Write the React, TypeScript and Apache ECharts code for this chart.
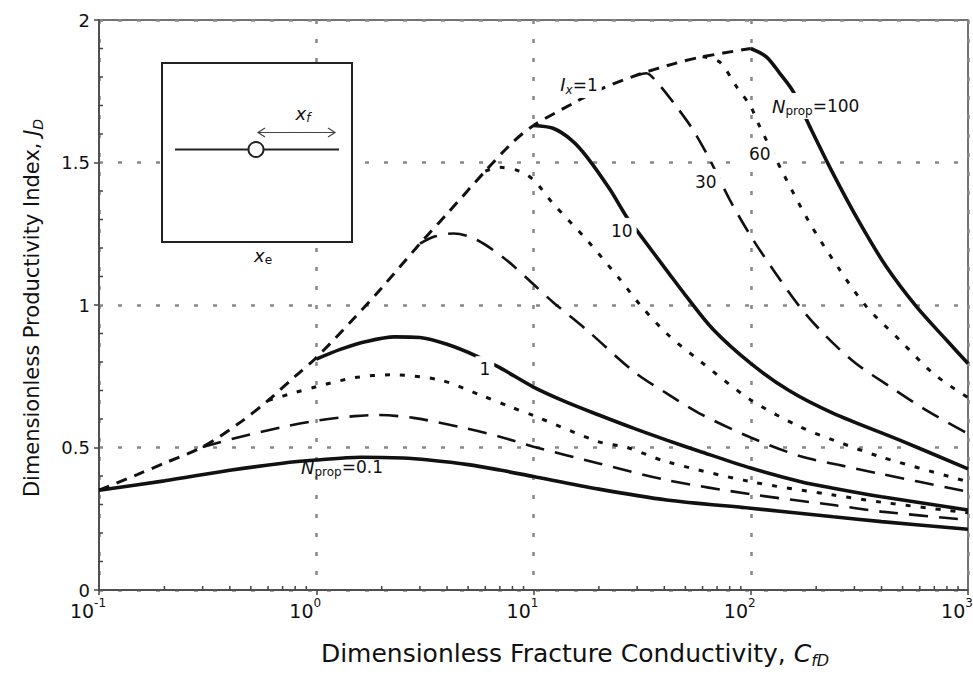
import React, { useEffect, useRef } from 'react';
import * as echarts from 'echarts';

const FONT = "'DejaVu Sans', 'Liberation Sans', sans-serif";
const INK = '#111';

// Ix = 1 envelope
const envelope: [number, number][] = [
  [0.1, 0.35], [0.15, 0.405], [0.2, 0.445], [0.3, 0.502], [0.45, 0.59], [0.6, 0.665], [0.8, 0.75],
  [1, 0.815], [1.5, 0.955], [2, 1.06], [3, 1.215], [4, 1.32], [6, 1.47], [8, 1.57], [10, 1.63],
  [15, 1.705], [20, 1.755], [30, 1.807], [45, 1.848], [60, 1.871], [100, 1.9],
];

const nprop01: [number, number][] = [
  [0.1, 0.35], [0.2, 0.383], [0.4, 0.42], [0.7, 0.445], [1, 0.456], [1.6, 0.466], [2.5, 0.463],
  [3.3, 0.456], [5, 0.44], [7, 0.421], [10, 0.398], [20, 0.354], [41, 0.316], [100, 0.287],
  [240, 0.257], [400, 0.24], [1000, 0.213],
];
const nprop03: [number, number][] = [
  [0.3, 0.502], [0.45, 0.538], [0.7, 0.572], [1, 0.594], [1.5, 0.61], [1.9, 0.614], [2.8, 0.604],
  [4.9, 0.567], [7, 0.538], [10, 0.503], [20, 0.444], [41, 0.386], [100, 0.336], [240, 0.298],
  [400, 0.275], [1000, 0.246],
];
const nprop06: [number, number][] = [
  [0.6, 0.665], [0.8, 0.693], [1, 0.713], [1.5, 0.745], [2.2, 0.755], [3.7, 0.737], [5.7, 0.684],
  [7.8, 0.643], [10, 0.612], [20, 0.52], [27, 0.5], [41, 0.45], [100, 0.38], [240, 0.333],
  [400, 0.308], [1000, 0.271],
];
const nprop1: [number, number][] = [
  [1, 0.81], [1.3, 0.845], [1.7, 0.872], [2.3, 0.888], [3, 0.886], [4, 0.862], [5.5, 0.82],
  [7, 0.78], [10, 0.712], [14, 0.661], [20, 0.614], [29, 0.567], [41, 0.526], [58, 0.487],
  [100, 0.428], [170, 0.38], [240, 0.357], [400, 0.327], [1000, 0.281],
];
const nprop3: [number, number][] = [
  [3, 1.215], [3.5, 1.24], [4.3, 1.251], [5.5, 1.228], [7.5, 1.158], [9.6, 1.085], [12.3, 1.01],
  [17.6, 0.912], [29, 0.766], [41, 0.69], [58, 0.62], [100, 0.535], [168, 0.47], [250, 0.44],
  [393, 0.408], [1000, 0.345],
];
const nprop6: [number, number][] = [
  [6, 1.47], [7, 1.483], [8.6, 1.47], [10, 1.439], [12.3, 1.356], [17.6, 1.228], [25, 1.09],
  [31, 1.0], [41, 0.9], [58, 0.805], [100, 0.667], [168, 0.573], [240, 0.526], [393, 0.468],
  [1000, 0.38],
];
const nprop10: [number, number][] = [
  [10, 1.63], [12.3, 1.62], [15, 1.578], [17.6, 1.52], [22.5, 1.405], [26.8, 1.31], [31, 1.245],
  [42, 1.111], [50, 1.035], [67, 0.915], [100, 0.795], [150, 0.7], [240, 0.62], [485, 0.526],
  [1000, 0.425],
];
const nprop30: [number, number][] = [
  [30, 1.807], [33, 1.813], [36.8, 1.784], [45.5, 1.696], [54.3, 1.614], [64.9, 1.509],
  [80.2, 1.368], [100, 1.242], [127, 1.123], [168, 0.994], [223, 0.889], [305, 0.795],
  [438, 0.713], [638, 0.632], [1000, 0.548],
];
const nprop60: [number, number][] = [
  [60, 1.871], [72, 1.852], [86, 1.766], [100, 1.696], [110, 1.626], [141, 1.462], [187, 1.287],
  [257, 1.123], [341, 0.994], [485, 0.877], [691, 0.76], [1000, 0.675],
];
const nprop100: [number, number][] = [
  [100, 1.9], [118, 1.871], [136, 1.813], [157, 1.748], [187, 1.626], [239, 1.462], [318, 1.287],
  [421, 1.134], [579, 0.994], [796, 0.877], [1000, 0.795],
];

const xMinorTicks = [
  0.2, 0.3, 0.4, 0.5, 0.6, 0.7, 0.8, 0.9,
  2, 3, 4, 5, 6, 7, 8, 9,
  20, 30, 40, 50, 60, 70, 80, 90,
  200, 300, 400, 500, 600, 700, 800, 900,
];
const yMinorTicks = [0.1, 0.2, 0.3, 0.4, 0.6, 0.7, 0.8, 0.9, 1.1, 1.2, 1.3, 1.4, 1.6, 1.7, 1.8, 1.9];

// curve labels: text and anchor in data coordinates
const curveLabels = [
  { text: '{n|N}{s|prop}{t|=0.1}', x: 1.313, y: 0.43, bg: false },
  { text: '{t|1}', x: 5.97, y: 0.775, bg: true },
  { text: '{t|10}', x: 25.5, y: 1.26, bg: true },
  { text: '{t|30}', x: 62.1, y: 1.432, bg: true },
  { text: '{t|60}', x: 110, y: 1.53, bg: true },
  { text: '{n|N}{s|prop}{t|=100}', x: 199, y: 1.698, bg: true },
  { text: '{n|I}{si|x}{t|=1}', x: 16.2, y: 1.772, bg: true },
];

type Style = 'solid' | 'dash' | 'dot' | 'env';
const curves: { name: string; data: [number, number][]; kind: Style }[] = [
  { name: 'Ix=1', data: envelope, kind: 'env' },
  { name: 'Nprop=0.1', data: nprop01, kind: 'solid' },
  { name: 'Nprop=0.3', data: nprop03, kind: 'dash' },
  { name: 'Nprop=0.6', data: nprop06, kind: 'dot' },
  { name: 'Nprop=1', data: nprop1, kind: 'solid' },
  { name: 'Nprop=3', data: nprop3, kind: 'dash' },
  { name: 'Nprop=6', data: nprop6, kind: 'dot' },
  { name: 'Nprop=10', data: nprop10, kind: 'solid' },
  { name: 'Nprop=30', data: nprop30, kind: 'dash' },
  { name: 'Nprop=60', data: nprop60, kind: 'dot' },
  { name: 'Nprop=100', data: nprop100, kind: 'solid' },
];

const lineStyles: Record<Style, any> = {
  solid: { width: 3.6, type: 'solid' },
  dash: { width: 2.6, type: [19, 11] },
  dot: { width: 3, type: [5, 10] },
  env: { width: 3, type: [11, 8] },
};

export default function App() {
  const ref = useRef<HTMLDivElement>(null);
  useEffect(() => {
    if (!ref.current) return;
    const chart = echarts.init(ref.current, null, { renderer: 'svg' });

    const lineSeries = curves.map((c) => ({
      type: 'line',
      name: c.name,
      data: c.data,
      showSymbol: false,
      symbol: 'none',
      smooth: 0.3,
      silent: true,
      z: 3,
      lineStyle: { color: INK, cap: 'butt', ...lineStyles[c.kind] },
    }));

    const labelRich = {
      n: { fontSize: 18, fontStyle: 'italic', fontFamily: FONT, color: INK, lineHeight: 22, verticalAlign: 'middle', textBorderWidth: 0 },
      t: { fontSize: 17, fontFamily: FONT, color: INK, lineHeight: 22, verticalAlign: 'middle', textBorderWidth: 0 },
      s: { fontSize: 12, fontFamily: FONT, color: INK, lineHeight: 12, verticalAlign: 'bottom', textBorderWidth: 0 },
      si: { fontSize: 12, fontStyle: 'italic', fontFamily: FONT, color: INK, lineHeight: 12, verticalAlign: 'bottom', textBorderWidth: 0 },
    };

    const option: any = {
      animation: false,
      backgroundColor: '#fff',
      textStyle: { fontFamily: FONT },
      grid: {
        left: 99, right: 5, top: 20, bottom: 86,
        outerBoundsMode: 'none',
        containLabel: false,
        show: true, borderColor: '#444', borderWidth: 1.5, backgroundColor: 'transparent',
      },
      xAxis: {
        type: 'log', logBase: 10, min: 0.1, max: 1000,
        axisLine: { show: true, onZero: false, lineStyle: { color: '#444', width: 1.5 } },
        axisTick: { show: true, inside: false, length: 5, lineStyle: { color: '#444', width: 1.5 } },
        splitLine: { show: true, lineStyle: { color: '#888', width: 2.5, type: [4, 15] } },
        axisLabel: {
          margin: 7,
          hideOverlap: false,
          showMinLabel: true,
          showMaxLabel: true,
          formatter: (v: number) => `{a|10}{sup|${Math.round(Math.log10(v))}}`,
          rich: {
            a: { fontSize: 19, fontFamily: FONT, color: INK, lineHeight: 28, verticalAlign: 'middle' },
            sup: { fontSize: 12, fontFamily: FONT, color: INK, lineHeight: 12, verticalAlign: 'top', padding: [0, 22, 0, 0] },
          },
        },
      },
      yAxis: {
        type: 'value', min: 0, max: 2, interval: 0.5,
        axisLine: { show: true, onZero: false, lineStyle: { color: '#444', width: 1.5 } },
        axisTick: { show: true, inside: false, length: 5, lineStyle: { color: '#444', width: 1.5 } },
        splitLine: { show: true, lineStyle: { color: '#888', width: 2.5, type: [4, 15] } },
        axisLabel: { margin: 9, fontSize: 18, fontFamily: FONT, color: INK },
      },
      series: [
        ...lineSeries,
        {
          type: 'custom',
          name: 'xminor',
          silent: true,
          clip: false,
          z: 4,
          data: xMinorTicks.map((v) => [v, 0]),
          renderItem: (_p: any, api: any) => {
            const pt = api.coord([api.value(0), 0]);
            return {
              type: 'line',
              shape: { x1: pt[0], y1: pt[1], x2: pt[0], y2: pt[1] - 4 },
              style: { stroke: '#444', lineWidth: 1.5 },
            };
          },
        },
        {
          type: 'custom',
          name: 'yminor',
          silent: true,
          clip: false,
          z: 4,
          data: yMinorTicks.map((v) => [0.1, v]),
          renderItem: (_p: any, api: any) => {
            const pt = api.coord([0.1, api.value(1)]);
            return {
              type: 'line',
              shape: { x1: pt[0], y1: pt[1], x2: pt[0] + 4, y2: pt[1] },
              style: { stroke: '#444', lineWidth: 1.5 },
            };
          },
        },
        {
          type: 'scatter',
          name: 'labels',
          silent: true,
          z: 10,
          symbol: 'rect',
          symbolSize: 1,
          itemStyle: { color: '#ffffff' },
          data: curveLabels.map((l) => ({
            value: [l.x, l.y],
            label: {
              formatter: l.text,
              backgroundColor: l.bg ? '#ffffff' : 'transparent',
            },
          })),
          label: {
            show: true,
            position: 'inside',
            align: 'center',
            verticalAlign: 'middle',
            color: INK,
            textBorderWidth: 0,
            opacity: 1,
            padding: [2, 4],
            rich: labelRich,
          },
        },
      ],
      graphic: [
        {
          type: 'group',
          z: 100,
          children: [
            { type: 'rect', z: 100, shape: { x: 162, y: 63, width: 190, height: 179 }, style: { fill: '#fff', stroke: '#222', lineWidth: 2 } },
            { type: 'line', z: 101, shape: { x1: 175, y1: 149.5, x2: 339, y2: 149.5 }, style: { stroke: '#222', lineWidth: 2 } },
            { type: 'circle', z: 102, shape: { cx: 256, cy: 149.5, r: 7.5 }, style: { fill: '#fff', stroke: '#222', lineWidth: 2 } },
            { type: 'line', z: 101, shape: { x1: 258, y1: 132.5, x2: 335, y2: 132.5 }, style: { stroke: '#444', lineWidth: 1.2 } },
            { type: 'polyline', z: 101, shape: { points: [[265, 128], [258, 132.5], [265, 137]] }, style: { stroke: '#444', lineWidth: 1.2, fill: 'none' } },
            { type: 'polyline', z: 101, shape: { points: [[328, 128], [335, 132.5], [328, 137]] }, style: { stroke: '#444', lineWidth: 1.2, fill: 'none' } },
            {
              type: 'text', z: 103, x: 303, y: 113,
              style: {
                text: '{i|x}{s|f}', align: 'center', verticalAlign: 'middle',
                rich: {
                  i: { fontSize: 18, fontStyle: 'italic', fontFamily: FONT, fill: INK, lineHeight: 22, verticalAlign: 'middle' },
                  s: { fontSize: 12, fontStyle: 'italic', fontFamily: FONT, fill: INK, lineHeight: 12, verticalAlign: 'bottom' },
                },
              },
            },
            {
              type: 'text', z: 103, x: 263, y: 255,
              style: {
                text: '{i|x}{s|e}', align: 'center', verticalAlign: 'middle',
                rich: {
                  i: { fontSize: 18, fontStyle: 'italic', fontFamily: FONT, fill: INK, lineHeight: 22, verticalAlign: 'middle' },
                  s: { fontSize: 12, fontFamily: FONT, fill: INK, lineHeight: 12, verticalAlign: 'bottom' },
                },
              },
            },
          ],
        },
        {
          type: 'text', z: 100, x: 575, y: 653,
          style: {
            text: '{t|Dimensionless Fracture Conductivity, }{i|C}{s|fD}', align: 'center', verticalAlign: 'middle',
            rich: {
              t: { fontSize: 25, fontFamily: FONT, fill: INK, lineHeight: 30, verticalAlign: 'middle' },
              i: { fontSize: 25, fontStyle: 'italic', fontFamily: FONT, fill: INK, lineHeight: 30, verticalAlign: 'middle' },
              s: { fontSize: 16, fontStyle: 'italic', fontFamily: FONT, fill: INK, lineHeight: 16, verticalAlign: 'bottom' },
            },
          },
        },
        {
          type: 'text', z: 100, x: 32, y: 308, rotation: Math.PI / 2,
          style: {
            text: '{t|Dimensionless Productivity Index, }{i|J}{s|D}', align: 'center', verticalAlign: 'middle',
            rich: {
              t: { fontSize: 21, fontFamily: FONT, fill: INK, lineHeight: 26, verticalAlign: 'middle' },
              i: { fontSize: 21, fontStyle: 'italic', fontFamily: FONT, fill: INK, lineHeight: 26, verticalAlign: 'middle' },
              s: { fontSize: 14, fontStyle: 'italic', fontFamily: FONT, fill: INK, lineHeight: 14, verticalAlign: 'bottom' },
            },
          },
        },
      ],
    };

    chart.setOption(option);
    return () => chart.dispose();
  }, []);

  return (
    <div
      ref={ref}
      style={{ position: 'fixed', left: 0, top: 0, width: 973, height: 676, background: '#fff' }}
    />
  );
}
